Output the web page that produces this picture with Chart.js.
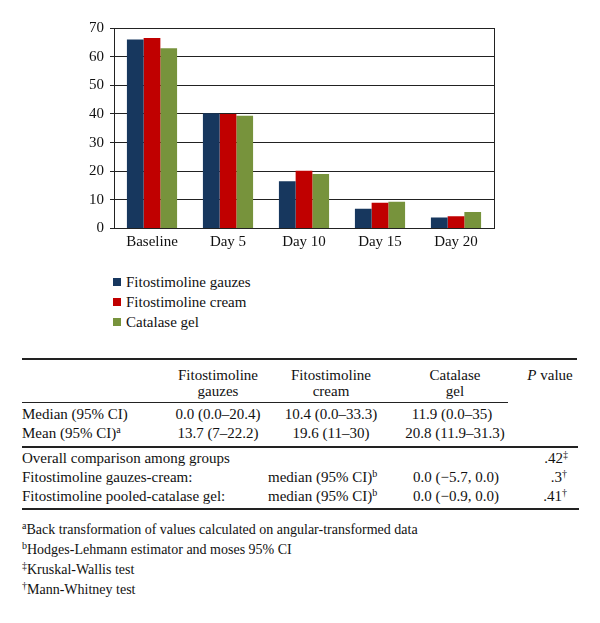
<!DOCTYPE html>
<html lang="en">
<head>
  <meta charset="UTF-8" />
  <title>Wound healing – area by group</title>
  <script src="https://cdn.jsdelivr.net/npm/chart.js"></script>
  <style>
    html, body { margin: 0; padding: 0; background: #fff; }
    body { width: 600px; height: 623px; position: relative; overflow: hidden;
           font-family: "Liberation Serif", "DejaVu Serif", serif; color: #111; }
    #chartBox { position: absolute; left: 0; top: 0; width: 600px; height: 262px; }
    .t { position: absolute; font-size: 15px; line-height: 18px; white-space: nowrap; }
    .fn { font-size: 14px; }
    .c { width: 200px; text-align: center; }
    .r { width: 200px; text-align: right; }
    .h2 { line-height: 16px; }
    sup { font-size: 10px; line-height: 0; vertical-align: 5px; }
    .rule { position: absolute; background: #222; }
    .leg { position: absolute; left: 113px; font-size: 15px; line-height: 18px; }
    .leg span.sw { position: absolute; left: 0; top: 5px; width: 8px; height: 8px; }
    .leg span.lb { position: absolute; left: 13px; top: 0; white-space: nowrap; }
  </style>
</head>
<body>
  <div id="chartBox"><canvas id="chart"></canvas></div>
  <div id="legend"></div>

  <!-- table -->
  <div class="rule" style="left:22px; top:358px; width:555px; height:2px;"></div>
  <div class="t c h2" style="left:118px; top:367px;">Fitostimoline<br>gauzes</div>
  <div class="t c h2" style="left:231px; top:367px;">Fitostimoline<br>cream</div>
  <div class="t c h2" style="left:355px; top:367px;">Catalase<br>gel</div>
  <div class="t c" style="left:450px; top:366px;"><i>P</i> value</div>
  <div class="rule" style="left:22px; top:402px; width:486px; height:1px;"></div>

  <div class="t" style="left:22px; top:405px;">Median (95% CI)</div>
  <div class="t c" style="left:118px; top:405px;">0.0 (0.0–20.4)</div>
  <div class="t c" style="left:231px; top:405px;">10.4 (0.0–33.3)</div>
  <div class="t c" style="left:352px; top:405px;">11.9 (0.0–35)</div>

  <div class="t" style="left:22px; top:424px;">Mean (95% CI)<sup>a</sup></div>
  <div class="t c" style="left:118px; top:424px;">13.7 (7–22.2)</div>
  <div class="t c" style="left:231px; top:424px;">19.6 (11–30)</div>
  <div class="t c" style="left:355px; top:424px;">20.8 (11.9–31.3)</div>
  <div class="rule" style="left:22px; top:446px; width:556px; height:2px;"></div>

  <div class="t" style="left:22px; top:449px;">Overall comparison among groups</div>
  <div class="t r" style="left:368px; top:449px;">.42<sup>‡</sup></div>

  <div class="t" style="left:22px; top:468px;">Fitostimoline gauzes-cream:</div>
  <div class="t" style="left:268px; top:468px;">median (95% CI)<sup>b</sup></div>
  <div class="t c" style="left:356px; top:468px;">0.0 (−5.7, 0.0)</div>
  <div class="t r" style="left:367px; top:468px;">.3<sup>†</sup></div>

  <div class="t" style="left:22px; top:487px;">Fitostimoline pooled-catalase gel:</div>
  <div class="t" style="left:268px; top:487px;">median (95% CI)<sup>b</sup></div>
  <div class="t c" style="left:356px; top:487px;">0.0 (−0.9, 0.0)</div>
  <div class="t r" style="left:367px; top:487px;">.41<sup>†</sup></div>
  <div class="rule" style="left:22px; top:508px; width:557px; height:2px;"></div>

  <div class="t fn" style="left:22px; top:521px;"><sup>a</sup>Back transformation of values calculated on angular-transformed data</div>
  <div class="t fn" style="left:22px; top:541px;"><sup>b</sup>Hodges-Lehmann estimator and moses 95% CI</div>
  <div class="t fn" style="left:22px; top:561px;"><sup>‡</sup>Kruskal-Wallis test</div>
  <div class="t fn" style="left:22px; top:581px;"><sup>†</sup>Mann-Whitney test</div>

  <script>
    const categories = ["Baseline", "Day 5", "Day 10", "Day 15", "Day 20"];
    const seriesNames = ["Fitostimoline gauzes", "Fitostimoline cream", "Catalase gel"];
    const seriesColors = ["#17375E", "#C00000", "#77933C"];
    const gauzes = [66.0, 40.2, 16.5, 6.9, 3.8];
    const cream = [66.5, 40.0, 20.2, 9.0, 4.3];
    const catalase = [62.9, 39.4, 19.0, 9.3, 5.8];
    const yMax = 70;
    const yStep = 10;

    const serif = "'Liberation Serif', 'DejaVu Serif', serif";

    // cadre autour de la zone de tracé
    const frame = {
      id: "frame",
      afterDraw(chart) {
        const a = chart.chartArea, c = chart.ctx;
        c.save();
        c.strokeStyle = "#222";
        c.lineWidth = 1;
        c.beginPath();
        c.moveTo(Math.round(a.right) + 0.5, a.top);
        c.lineTo(Math.round(a.right) + 0.5, a.bottom);
        c.stroke();
        c.restore();
      }
    };

    new Chart(document.getElementById("chart"), {
      type: "bar",
      data: {
        labels: categories,
        datasets: [gauzes, cream, catalase].map((d, i) => ({
          label: seriesNames[i],
          data: d,
          backgroundColor: seriesColors[i],
          borderWidth: 0,
          categoryPercentage: 0.66,
          barPercentage: 1
        }))
      },
      options: {
        responsive: true,
        maintainAspectRatio: false,
        animation: false,
        layout: { padding: { left: 60, right: 106, top: 28, bottom: 0 } },
        plugins: { legend: { display: false }, tooltip: { enabled: false } },
        scales: {
          x: {
            grid: { display: false, drawTicks: false },
            border: { color: "#222", width: 1 },
            ticks: { color: "#111", padding: 5, font: { family: serif, size: 15 } },
            afterFit(s) { s.height = 33.5; }
          },
          y: {
            min: 0, max: yMax,
            grid: { color: "#222", lineWidth: 1, tickLength: 4 },
            border: { color: "#222", width: 1 },
            ticks: { stepSize: yStep, color: "#111", padding: 6, font: { family: serif, size: 15 } },
            afterFit(s) { s.width = 54; }
          }
        }
      },
      plugins: [frame]
    });

    // légende verticale sous le graphique
    const legend = document.getElementById("legend");
    seriesNames.forEach((name, i) => {
      const row = document.createElement("div");
      row.className = "leg";
      row.style.top = (273 + i * 20) + "px";
      row.innerHTML = '<span class="sw" style="background:' + seriesColors[i] + '"></span><span class="lb">' + name + '</span>';
      legend.appendChild(row);
    });
  </script>
</body>
</html>
